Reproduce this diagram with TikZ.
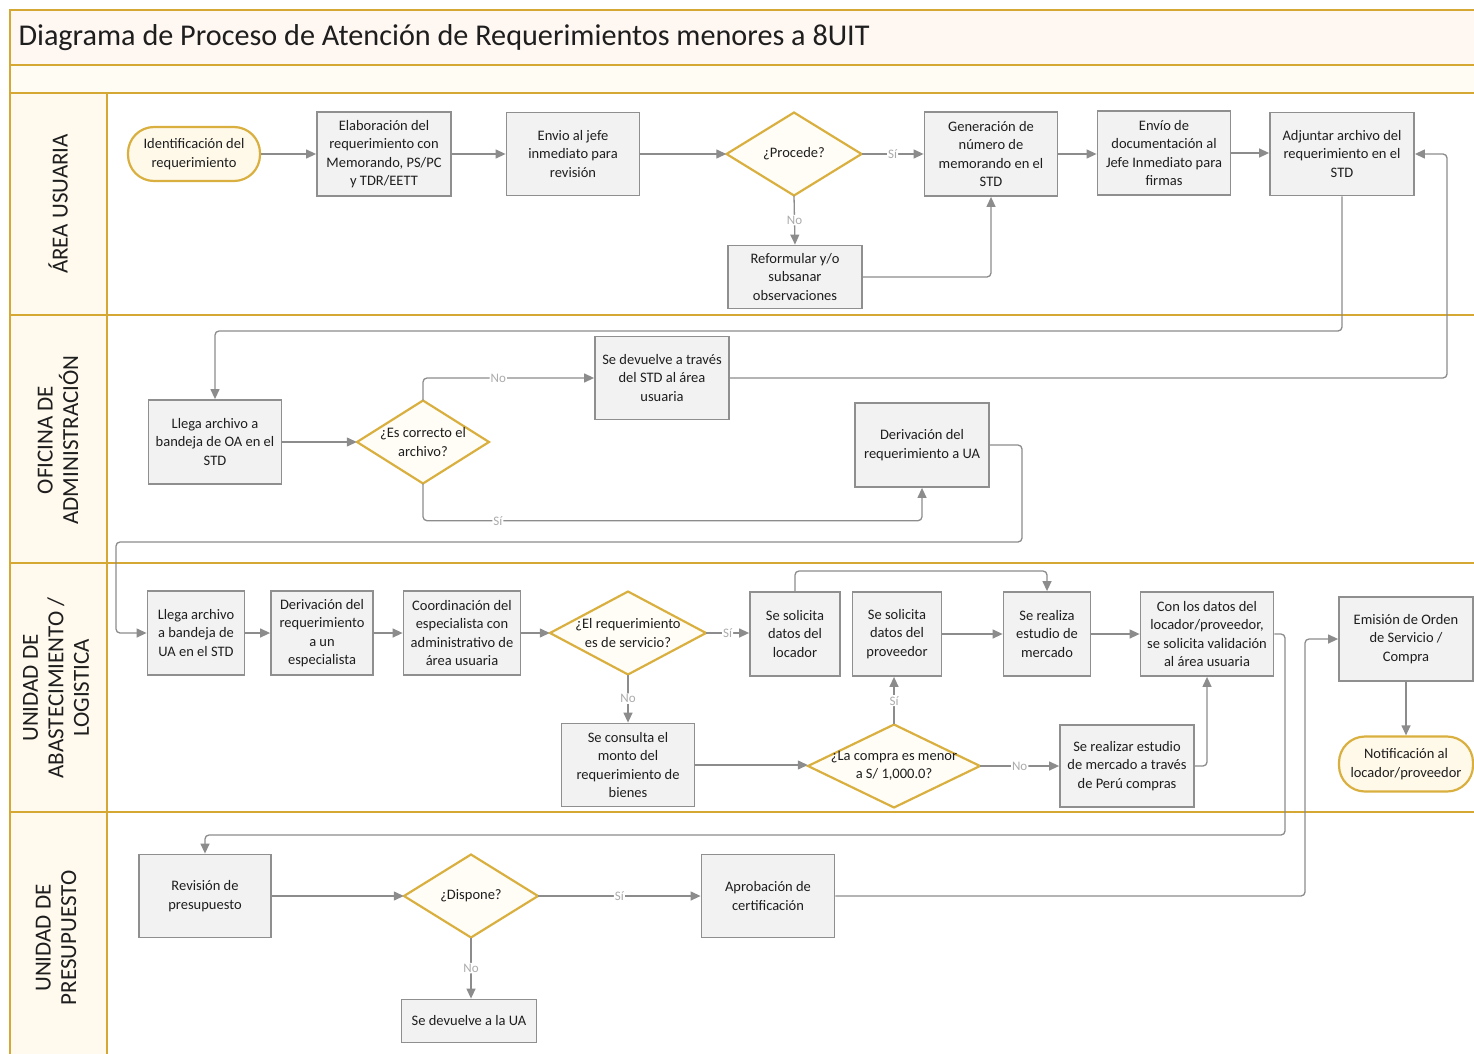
\documentclass[tikz,border=0pt]{standalone}
\usepackage{fontspec}
\setmainfont{Carlito}
\usetikzlibrary{arrows.meta,calc}
\definecolor{gold}{HTML}{D5A833}
\definecolor{diagold}{HTML}{D9B040}
\definecolor{boxfill}{HTML}{F2F2F2}
\definecolor{boxline}{HTML}{8F8F8F}
\definecolor{conncol}{HTML}{8C8C8C}
\definecolor{lblcol}{HTML}{ABABAB}
\definecolor{txtcol}{HTML}{1E1E1E}
\definecolor{titlefill}{HTML}{FFF7F2}
\definecolor{subfill}{HTML}{FFFCF3}
\definecolor{colfill}{HTML}{FFF9EE}
\definecolor{termfill}{HTML}{FFF9EA}
\definecolor{diafill}{HTML}{FFFDF6}
\newcommand\mydia[6]{%
  \path[diashape] (#2-#4/2,#3) -- (#2,#3-#5/2) -- (#2+#4/2,#3) -- (#2,#3+#5/2) -- cycle;
  \node[diatext, minimum width=#4pt, minimum height=#5pt] (#1) at (#2,#3) {#6};}
\begin{document}
\begin{tikzpicture}[x=1pt,y=-1pt,
  nodefont/.style={font=\fontsize{14.5}{18.4}\selectfont},
  box/.style={rectangle, draw=boxline, fill=boxfill, line width=1.8pt, align=center,
    inner sep=0pt, text=txtcol, nodefont},
  term/.style={rectangle, rounded corners=26pt, draw=diagold, fill=termfill, line width=2.2pt,
    align=center, inner sep=0pt, text=txtcol, nodefont},
  sz/.style 2 args={minimum width=#1pt, minimum height=#2pt},
  diashape/.style={draw=diagold, fill=diafill, line width=2.2pt, line join=miter},
  diatext/.style={rectangle, draw=none, align=center, inner sep=0pt, text=txtcol, nodefont},
  conn/.style={draw=conncol, line width=1.3pt, rounded corners=4pt,
    -{Triangle[length=10pt,width=9pt]}},
  lbl/.style={fill=white, text=lblcol, inner sep=1pt, font=\fontsize{13}{13}\selectfont},
  laneline/.style={draw=gold, line width=2.6pt},
  lanelbl/.style={rotate=90, align=center, text=txtcol,
    font=\fontsize{23}{25.5}\selectfont}
]
\useasboundingbox (0,0) rectangle (1474,1054);
% ---------- lanes ----------
\fill[titlefill] (10,10) rectangle (1480,65);
\fill[subfill] (10,65) rectangle (1480,93);
\fill[colfill] (10,93) rectangle (107,1060);
\draw[laneline] (1480,10) -- (10,10) -- (10,1060);
\foreach \yy in {65,93,315,563,812} {\draw[laneline] (10,\yy) -- (1480,\yy);}
\draw[laneline] (107,93) -- (107,1060);
\node[anchor=west, text=txtcol, font=\fontsize{30.2}{32}\selectfont] (title) at (15,38)
  {Diagrama de Proceso de Atención de Requerimientos menores a 8UIT};
\node[lanelbl] (l1) at (58,204) {ÁREA USUARIA};
\node[lanelbl] (l2) at (58,440) {OFICINA DE\\ADMINISTRACIÓN};
\node[lanelbl] (l3) at (56,688) {UNIDAD DE\\ABASTECIMIENTO /\\LOGISTICA};
\node[lanelbl] (l4) at (56,938) {UNIDAD DE\\PRESUPUESTO};
% ---------- lane 1 ----------
\node[term, sz={132}{54}] (ident) at (194,154) {Identificación del\\requerimiento};
\node[box, sz={134}{84}] (elab) at (384,154) {Elaboración del\\requerimiento con\\Memorando, PS/PC\\y TDR/EETT};
\node[box, sz={133}{83}] (envio) at (573,154) {Envio al jefe\\inmediato para\\revisión};
\mydia{proc}{794}{154}{135}{83}{¿Procede?}
\node[box, sz={133}{84}] (gen) at (991,154) {Generación de\\número de\\memorando en el\\STD};
\node[box, sz={133}{84}] (envdoc) at (1164,153) {Envío de\\documentación al\\Jefe Inmediato para\\firmas};
\node[box, sz={144}{83}] (adj) at (1342,154) {Adjuntar archivo del\\requerimiento en el\\STD};
\node[box, sz={134}{63}] (refo) at (795,277) {Reformular y/o\\subsanar\\observaciones};
% ---------- lane 2 ----------
\node[box, sz={133}{84}] (llegaoa) at (215,442) {Llega archivo a\\bandeja de OA en el\\STD};
\mydia{escor}{423}{442}{132}{83}{¿Es correcto el\\archivo?}
\node[box, sz={134}{83}] (sedev) at (662,378) {Se devuelve a través\\del STD al área\\usuaria};
\node[box, sz={134}{84}] (deriv) at (922,445) {Derivación del\\requerimiento a UA};
% ---------- lane 3 ----------
\node[box, sz={97}{84}] (llegaua) at (196,633) {Llega archivo\\a bandeja de\\UA en el STD};
\node[box, sz={102}{84}] (derivesp) at (322,633) {Derivación del\\requerimiento\\a un\\especialista};
\node[box, sz={117}{84}] (coord) at (462,633) {Coordinación del\\especialista con\\administrativo de\\área usuaria};
\mydia{servdia}{628}{633}{156}{83}{¿El requerimiento\\es de servicio?}
\node[box, sz={90}{84}] (locador) at (795,634) {Se solicita\\datos del\\locador};
\node[box, sz={89}{84}] (proveedor) at (897,634) {Se solicita\\datos del\\proveedor};
\node[box, sz={87}{84}] (mercado) at (1047,634) {Se realiza\\estudio de\\mercado};
\node[box, sz={133}{84}] (condatos) at (1207,634) {Con los datos del\\locador/proveedor,\\se solicita validación\\al área usuaria};
\node[box, sz={134}{84}] (emision) at (1406,639) {Emisión de Orden\\de Servicio /\\Compra};
\node[term, sz={134}{55}] (notif) at (1406,764) {Notificación al\\locador/proveedor};
\node[box, sz={133}{83}] (consulta) at (628,765) {Se consulta el\\monto del\\requerimiento de\\bienes};
\mydia{compra}{894}{766}{172}{83}{¿La compra es menor\\a S/ 1,000.0?}
\node[box, sz={134}{82}] (perucomp) at (1127,766) {Se realizar estudio\\de mercado a través\\de Perú compras};
% ---------- lane 4 ----------
\node[box, sz={132}{83}] (revision) at (205,896) {Revisión de\\presupuesto};
\mydia{dispone}{471}{896}{134}{83}{¿Dispone?}
\node[box, sz={133}{83}] (aprob) at (768,896) {Aprobación de\\certificación};
\node[box, sz={135}{43}] (devua) at (469,1021) {Se devuelve a la UA};
% ---------- helper coordinates ----------
\coordinate (cAdj) at (1342,331);
\coordinate (cRet) at (1447,154);
\coordinate (cDer) at (1022,542);
\coordinate (cUA) at (116,633);
\coordinate (cLoc) at (795,571);
\coordinate (cDat) at (1285,835);
\coordinate (cApr) at (1305,639);
% ---------- connectors ----------
\draw[conn] (ident.east) -- (elab.west);
\draw[conn] (elab.east) -- (envio.west);
\draw[conn] (envio.east) -- (proc.west);
\draw[conn] (proc.east) -- node[lbl]{Sí} (gen.west);
\draw[conn] (proc.south) -- node[lbl]{No} (refo.north);
\draw[conn] (refo.east) -| (gen.south);
\draw[conn] (gen.east) -- (gen.east -| envdoc.west);
\draw[conn] (envdoc.east) -- (envdoc.east -| adj.west);
\draw[conn] (adj.south) -- (cAdj) -| (llegaoa.north);
\draw[conn] (sedev.east) -| (cRet) -- (adj.east);
\draw[conn] (llegaoa.east) -- (escor.west);
\draw[conn] (escor.north) |- node[lbl, pos=0.72]{No} (sedev.west);
\draw[conn] (escor.south) -- ++(0,37) -| node[lbl, pos=0.075]{Sí} (deriv.south);
\draw[conn] (deriv.east) -| (cDer) -| (cUA) -- (llegaua.west);
\draw[conn] (llegaua.east) -- (derivesp.west);
\draw[conn] (derivesp.east) -- (coord.west);
\draw[conn] (coord.east) -- (servdia.west);
\draw[conn] (servdia.east) -- node[lbl]{Sí} (servdia.east -| locador.west);
\draw[conn] (servdia.south) -- node[lbl]{No} (consulta.north);
\draw[conn] (consulta.east) -- (consulta.east -| compra.west);
\draw[conn] (compra.north) -- node[lbl]{Sí} (compra.north |- proveedor.south);
\draw[conn] (compra.east) -- node[lbl]{No} (compra.east -| perucomp.west);
\draw[conn] (perucomp.east) -| (condatos.south);
\draw[conn] (locador.north) -- (cLoc) -| (mercado.north);
\draw[conn] (proveedor.east) -- (mercado.west);
\draw[conn] (mercado.east) -- (condatos.west);
\draw[conn] (condatos.east) -| (cDat) -| (revision.north);
\draw[conn] (aprob.east) -| (cApr) -- (emision.west);
\draw[conn] (emision.south) -- (notif.north);
\draw[conn] (revision.east) -- (dispone.west);
\draw[conn] (dispone.east) -- node[lbl]{Sí} (aprob.west);
\draw[conn] (dispone.south) -- node[lbl]{No} (dispone.south |- devua.north);
\end{tikzpicture}
\end{document}
